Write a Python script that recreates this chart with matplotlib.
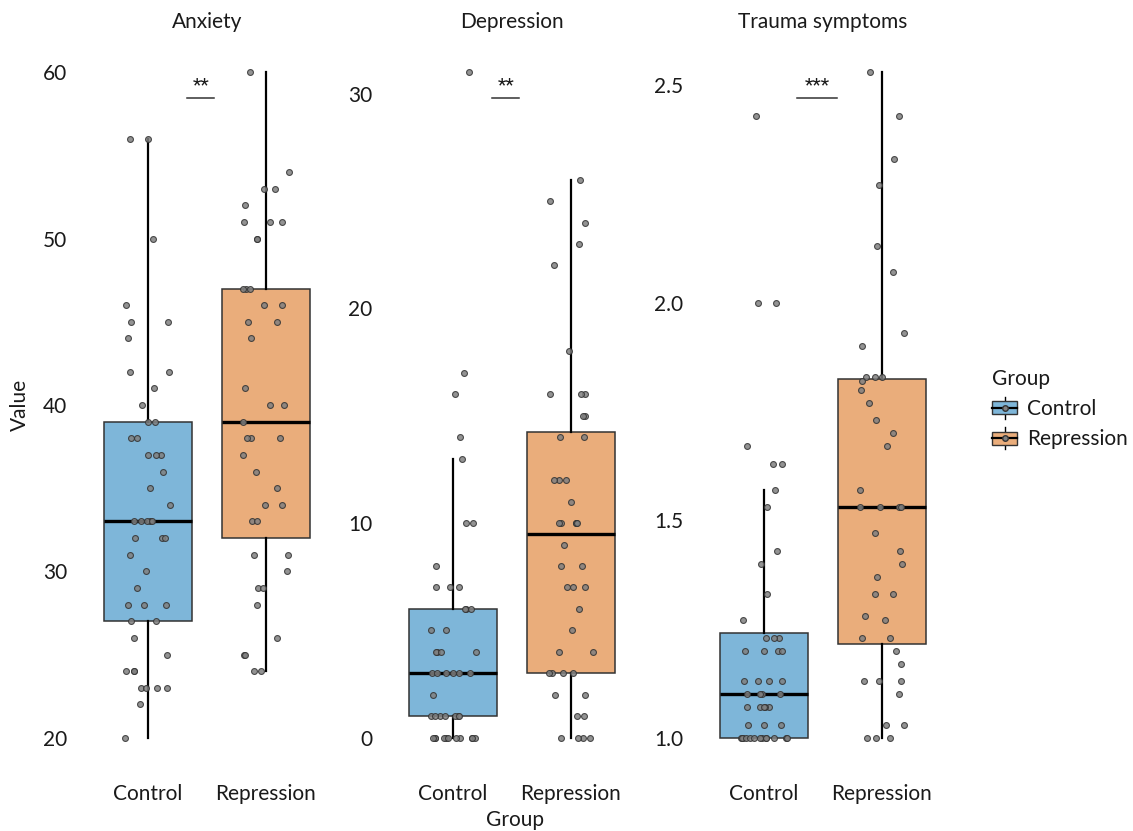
import numpy as np
import matplotlib
matplotlib.use("Agg")
import matplotlib.pyplot as plt
from matplotlib.patches import Rectangle
from matplotlib.lines import Line2D
from matplotlib.legend_handler import HandlerBase

plt.rcParams['font.family'] = ['Lato', 'DejaVu Sans']

groups = ["Control", "Repression"]
panels = ["Anxiety", "Depression", "Trauma symptoms"]
sig_labels = ["**", "**", "***"]

anx_control = [56, 56, 50, 46, 45, 45, 44, 42, 42, 41, 40, 39, 39, 38, 38, 37, 37, 37,
               36, 35, 34, 33, 33, 33, 33, 33, 32, 32, 32, 31, 30, 29, 28, 28, 28, 27,
               27, 26, 25, 24, 24, 24, 23, 23, 23, 23, 22, 20]
anx_repression = [60, 54, 53, 53, 52, 51, 51, 51, 50, 50, 47, 47, 47, 46, 46, 45, 45, 44,
                  41, 40, 40, 39, 38, 38, 38, 37, 36, 35, 34, 34, 33, 33, 31, 31, 30, 29,
                  29, 28, 26, 25, 25, 24, 24]
dep_control = [31, 17, 16, 14, 13, 10, 10, 8, 7, 7, 7, 6, 6, 6, 5, 5, 4, 4, 4, 4, 3, 3,
               3, 3, 3, 3, 2, 1, 1, 1, 1, 1, 1, 1, 0, 0, 0, 0, 0, 0, 0, 0, 0, 0, 0]
dep_repression = [26, 25, 24, 23, 22, 18, 16, 16, 16, 15, 15, 14, 14, 12, 12, 12, 11, 10,
                  10, 10, 10, 10, 9, 8, 8, 7, 7, 7, 6, 5, 4, 4, 3, 3, 3, 3, 2, 2, 1, 1,
                  0, 0, 0, 0]
tra_control = [2.43, 2.00, 2.00, 1.67, 1.63, 1.63, 1.57, 1.53, 1.43, 1.40, 1.33, 1.27,
               1.23, 1.23, 1.23, 1.20, 1.20, 1.20, 1.20, 1.13, 1.13, 1.13, 1.13, 1.10,
               1.10, 1.10, 1.10, 1.07, 1.07, 1.07, 1.07, 1.07, 1.03, 1.03, 1.03,
               1.00, 1.00, 1.00, 1.00, 1.00, 1.00, 1.00, 1.00, 1.00, 1.00, 1.00, 1.00, 1.00]
tra_repression = [2.53, 2.43, 2.33, 2.27, 2.13, 2.07, 1.93, 1.90, 1.83, 1.83, 1.83, 1.82,
                  1.80, 1.77, 1.73, 1.70, 1.67, 1.57, 1.53, 1.53, 1.53, 1.53, 1.47, 1.43,
                  1.40, 1.37, 1.33, 1.33, 1.28, 1.27, 1.23, 1.23, 1.20, 1.17, 1.13, 1.13,
                  1.13, 1.10, 1.03, 1.03, 1.00, 1.00, 1.00]

anx_ticks = [20, 30, 40, 50, 60]
dep_ticks = [0, 10, 20, 30]
tra_ticks = [1.0, 1.5, 2.0, 2.5]

data = [(anx_control, anx_repression), (dep_control, dep_repression), (tra_control, tra_repression)]
ticks = [anx_ticks, dep_ticks, tra_ticks]
tick_fmt = ["{:.0f}", "{:.0f}", "{:.1f}"]

colors = ["#7EB6D9", "#EAAD7B"]
txt = "#1a1a1a"
fs = 15

fig = plt.figure(figsize=(11.33, 8.31), dpi=100)
lefts = [77, 382, 693]
rng = np.random.default_rng(11)

for i in range(3):
    ax = fig.add_axes([lefts[i] / 1133, 60 / 831, 259.6 / 1133, 732 / 831])
    ctrl, rep = data[i]
    bp = ax.boxplot([ctrl, rep], positions=[1, 2], widths=0.75, patch_artist=True,
                    showfliers=False, showcaps=False, whis=1.5,
                    medianprops=dict(color="black", lw=2.4),
                    boxprops=dict(edgecolor="#333333", lw=1.1),
                    whiskerprops=dict(color="black", lw=1.6))
    for patch, c in zip(bp["boxes"], colors):
        patch.set_facecolor(c)
    for j, vals in enumerate([ctrl, rep]):
        xs = j + 1 + rng.uniform(-0.2, 0.2, len(vals))
        ax.scatter(xs, vals, s=18, c="#808080", edgecolors="#333333", linewidths=0.8,
                   alpha=0.85, zorder=3)
    allv = ctrl + rep
    lo, hi = min(allv), max(allv)
    pad = 0.05 * (hi - lo)
    ax.set_ylim(lo - pad, hi + pad)
    ax.set_xlim(0.4, 2.6)
    ax.set_yticks(ticks[i])
    ax.set_yticklabels([tick_fmt[i].format(t) for t in ticks[i]])
    ax.set_xticks([1, 2])
    ax.set_xticklabels(groups)
    ax.tick_params(length=0, labelsize=fs, colors=txt)
    ax.tick_params(axis="y", pad=7)
    ax.tick_params(axis="x", pad=9)
    for s in ax.spines.values():
        s.set_visible(False)
    ax.set_title(panels[i], fontsize=fs, color=txt, pad=8)

    # significance mark
    bt = ax.get_xaxis_transform()
    half = 0.057 * len(sig_labels[i])
    ax.plot([1.45 - half, 1.45 + half], [0.919, 0.919], color="#333333", lw=1.1, transform=bt)
    ax.text(1.45, 0.925, sig_labels[i], ha="center", va="bottom", fontsize=14, color=txt,
            transform=bt, family="Roboto")

fig.text(515 / 1133, 1 - 820 / 831, "Group", ha="center", va="center", fontsize=fs, color=txt)
fig.text(20 / 1133, 0.513, "Value", ha="center", va="center", rotation=90, fontsize=fs, color=txt)


class BoxKey(HandlerBase):
    def create_artists(self, legend, orig_handle, xdescent, ydescent, width, height, fontsize, trans):
        fc = orig_handle.get_facecolor()
        x0, y0 = -xdescent, -ydescent
        wl = Line2D([x0 + width / 2] * 2, [y0 - height * 0.15, y0 + height * 1.15],
                    color="black", lw=1, transform=trans)
        r = Rectangle((x0, y0 + height * 0.1), width, height * 0.8, facecolor=fc,
                      edgecolor="#333333", lw=1, transform=trans)
        med = Line2D([x0, x0 + width], [y0 + height / 2] * 2, color="black", lw=1.6, transform=trans)
        dot = Line2D([x0 + width / 2], [y0 + height / 2], marker="o", ms=4, mfc="#808080",
                     mec="#333333", transform=trans)
        return [wl, r, med, dot]


handles = [Rectangle((0, 0), 1, 1, facecolor=c) for c in colors]
leg = fig.legend(handles, groups, title="Group", loc="center left",
                 bbox_to_anchor=(992 / 1133, 1 - 409 / 831), frameon=False, fontsize=fs,
                 title_fontsize=fs, handler_map={Rectangle: BoxKey()}, handlelength=1.2,
                 handleheight=0.85, handletextpad=0.5, labelspacing=0.5, borderaxespad=0,
                 borderpad=0, alignment="left")
for t in leg.get_texts():
    t.set_color(txt)
leg.get_title().set_color(txt)

fig.savefig("out.png", dpi=100)
